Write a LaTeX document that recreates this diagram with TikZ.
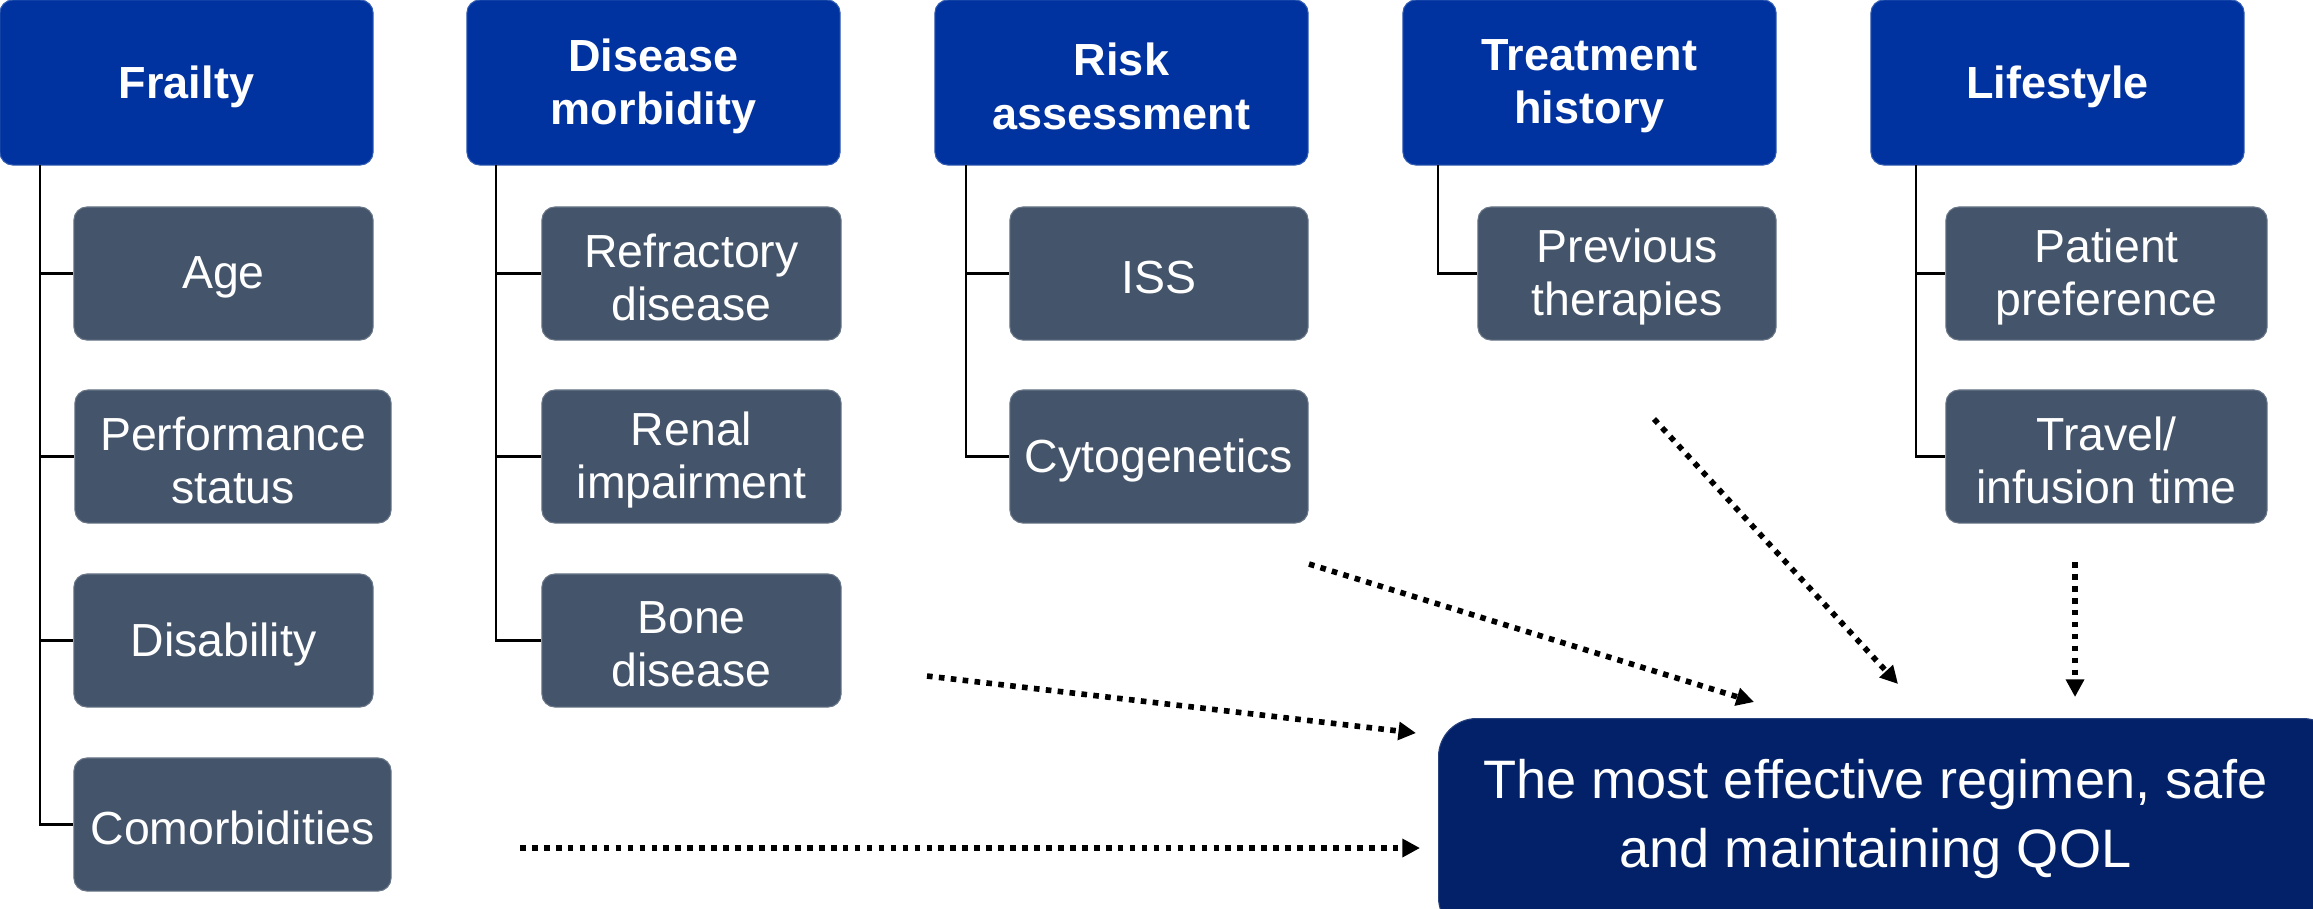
\documentclass[tikz,border=0pt]{standalone}
\usepackage{fontspec}
\setmainfont{Liberation Sans}
\usetikzlibrary{arrows.meta}
\definecolor{hdrblue}{RGB}{0,51,160}
\definecolor{slate}{RGB}{68,84,106}
\definecolor{navy}{RGB}{2,33,104}
\tikzset{
  hdr/.style={fill=hdrblue, draw=hdrblue!80!white, line width=0.3pt, rounded corners=0.13cm,
    minimum width=3.73cm, minimum height=1.65cm, inner sep=0pt},
  hdrtext/.style={align=center, text=white, inner sep=0pt,
    font=\bfseries\fontsize{12.8}{15.1}\selectfont},
  kid/.style={fill=slate, draw=slate!80!white, line width=0.3pt, rounded corners=0.13cm,
    minimum height=1.33cm, inner sep=0pt},
  kidtext/.style={align=center, text=white, inner sep=0pt,
    font=\fontsize{13.2}{15.1}\selectfont},
  goal/.style={fill=navy, draw=navy!85!white, line width=0.3pt, rounded corners=0.38cm,
    minimum width=9.02cm, minimum height=2.17cm, inner sep=0pt},
  goaltext/.style={align=center, text=white, font=\fontsize{15.4}{19.4}\selectfont, inner sep=0pt},
  tree/.style={line width=0.8pt, draw=black},
  dotarrow/.style={line width=1.6pt, dash pattern=on 1.6pt off 1.8pt,
    -{Triangle[width=5pt,length=5pt]}}
}
\begin{document}
\begin{tikzpicture}[x=0.01cm,y=-0.01cm]
\useasboundingbox (0,0) rectangle (2313,908);

% goal box (partly outside the page at right and bottom)
\node[goal, anchor=north west] (goal) at (1438,718) {};
\node[goaltext] (goalt) at (1875.5,819) {The most effective regimen, safe\\and maintaining QOL};

% headers
\node[hdr] (h1) at (186.5,82.5) {};
\node[hdr] (h2) at (653.5,82.5) {};
\node[hdr] (h3) at (1121.5,82.5) {};
\node[hdr] (h4) at (1589.5,82.5) {};
\node[hdr] (h5) at (2057.5,82.5) {};
\node[hdrtext] (h1t) at ([yshift=-1.1pt]h1.center) {Frailty};
\node[hdrtext] (h2t) at ([yshift=-1.1pt]h2.center) {Disease\\morbidity};
\node[hdrtext] (h3t) at ([yshift=-1.1pt]h3.center) {Risk\\assessment};
\node[hdrtext] (h4t) at ([yshift=-1.1pt]h4.center) {Treatment\\history};
\node[hdrtext] (h5t) at ([yshift=-1.1pt]h5.center) {Lifestyle};

% Frailty children
\node[kid, minimum width=2.99cm] (age) at (223.5,273.5) {};
\node[kid, minimum width=3.16cm] (perf) at (233,456.5) {};
\node[kid, minimum width=2.99cm] (disab) at (223.5,640.5) {};
\node[kid, minimum width=3.17cm] (comorb) at (232.5,824.5) {};
\node[kidtext] (aget) at ([yshift=-1.1pt]age.center) {Age};
\node[kidtext] (perft) at ([yshift=-1.1pt]perf.center) {Performance\\status};
\node[kidtext] (disabt) at ([yshift=-1.1pt]disab.center) {Disability};
\node[kidtext] (comorbt) at ([yshift=-1.1pt]comorb.center) {Comorbidities};

% Disease morbidity children
\node[kid, minimum width=2.99cm] (refr) at (691.5,273.5) {};
\node[kid, minimum width=2.99cm] (renal) at (691.5,456.5) {};
\node[kid, minimum width=2.99cm] (bone) at (691.5,640.5) {};
\node[kidtext] (refrt) at ([yshift=-1.1pt]refr.center) {Refractory\\disease};
\node[kidtext] (renalt) at ([yshift=-1.1pt]renal.center) {Renal\\impairment};
\node[kidtext] (bonet) at ([yshift=-1.1pt]bone.center) {Bone\\disease};

% Risk assessment children
\node[kid, minimum width=2.98cm] (iss) at (1159,273.5) {};
\node[kid, minimum width=2.98cm] (cyto) at (1159,456.5) {};
\node[kidtext] (isst) at ([yshift=-1.1pt]iss.center) {ISS};
\node[kidtext] (cytot) at ([yshift=-1.1pt]cyto.center) {Cytogenetics};

% Treatment history children
\node[kid, minimum width=2.98cm] (prev) at (1627,273.5) {};
\node[kidtext] (prevt) at ([yshift=-1.1pt]prev.center) {Previous\\therapies};

% Lifestyle children
\node[kid, minimum width=3.21cm] (pref) at (2106.5,273.5) {};
\node[kid, minimum width=3.21cm] (travel) at (2106.5,456.5) {};
\node[kidtext] (preft) at ([yshift=-1.1pt]pref.center) {Patient\\preference};
\node[kidtext] (travelt) at ([yshift=-1.1pt]travel.center) {Travel/\\infusion time};

% tree connectors
\coordinate (t1) at (40,165);
\coordinate (t2) at (496,165);
\coordinate (t3) at (966,165);
\coordinate (t4) at (1438,165);
\coordinate (t5) at (1916,165);
\draw[tree] (t1) |- (comorb.west);
\draw[tree] (t1) |- (age.west);
\draw[tree] (t1) |- (perf.west);
\draw[tree] (t1) |- (disab.west);
\draw[tree] (t2) |- (bone.west);
\draw[tree] (t2) |- (refr.west);
\draw[tree] (t2) |- (renal.west);
\draw[tree] (t3) |- (cyto.west);
\draw[tree] (t3) |- (iss.west);
\draw[tree] (t4) |- (prev.west);
\draw[tree] (t5) |- (travel.west);
\draw[tree] (t5) |- (pref.west);

% dotted arrows
\coordinate (a1s) at (520,848);   \coordinate (a1e) at (1420,848);
\coordinate (a2s) at (927,676);   \coordinate (a2e) at (1416,733);
\coordinate (a3s) at (1309,564);  \coordinate (a3e) at (1754,702);
\coordinate (a4s) at (1654,419);  \coordinate (a4e) at (1898,684);
\coordinate (a5s) at (2075,562);  \coordinate (a5e) at (2075,697);
\draw[dotarrow] (a1s) -- (a1e);
\draw[dotarrow] (a2s) -- (a2e);
\draw[dotarrow] (a3s) -- (a3e);
\draw[dotarrow] (a4s) -- (a4e);
\draw[dotarrow] (a5s) -- (a5e);
\end{tikzpicture}
\end{document}
